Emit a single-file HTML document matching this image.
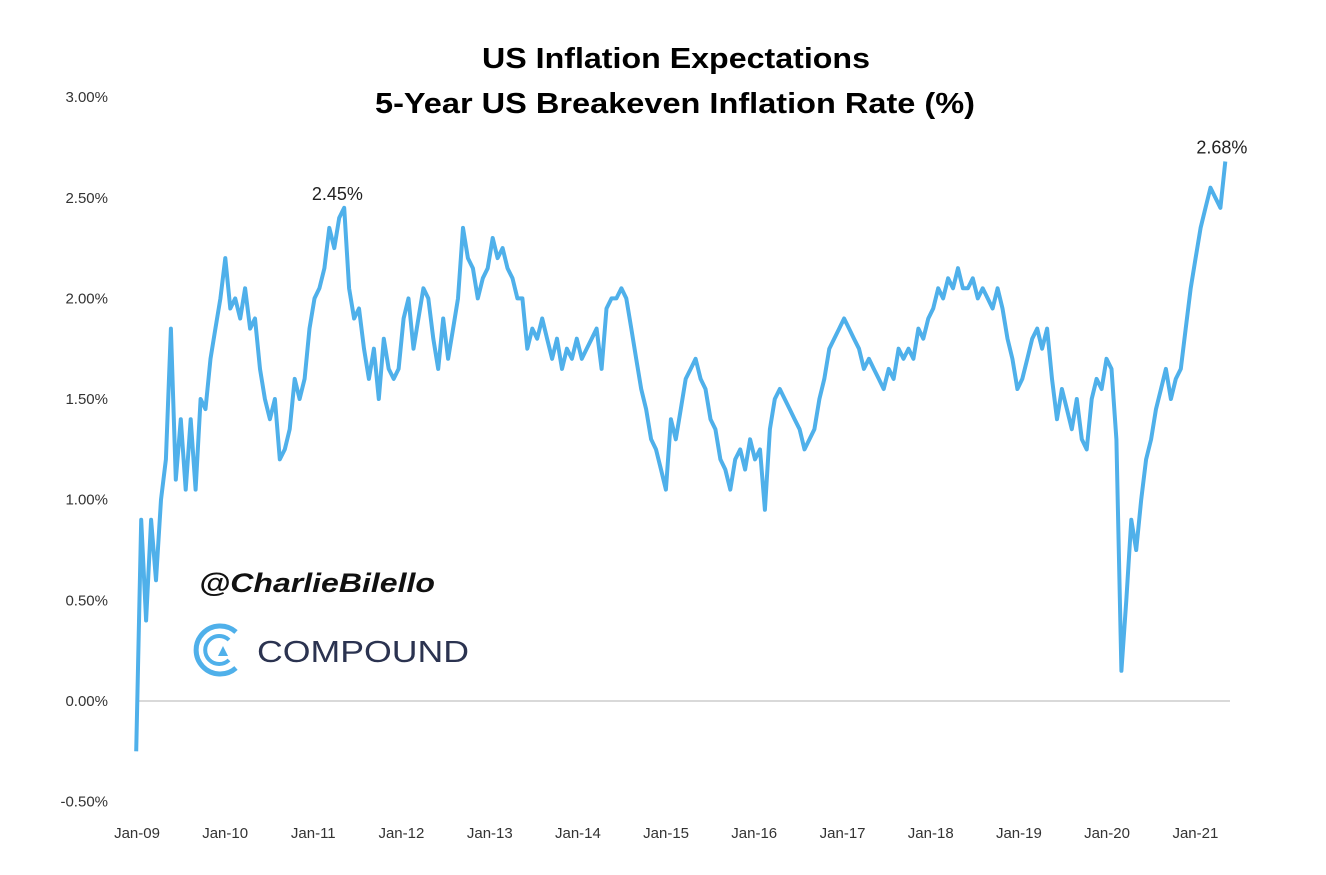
<!DOCTYPE html>
<html><head><meta charset="utf-8"><style>
body{margin:0;background:#fff;}
svg text{font-family:"Liberation Sans",sans-serif;}
</style></head><body>
<svg id="chart" width="1326" height="870" viewBox="0 0 1326 870" xmlns="http://www.w3.org/2000/svg">
<rect width="1326" height="870" fill="#fff"/>
<text x="676" y="68" text-anchor="middle" font-size="29" font-weight="bold" fill="#000" textLength="388" lengthAdjust="spacingAndGlyphs">US Inflation Expectations</text>
<text x="675" y="113" text-anchor="middle" font-size="29" font-weight="bold" fill="#000" textLength="600" lengthAdjust="spacingAndGlyphs">5-Year US Breakeven Inflation Rate (%)</text>
<g id="yaxis"></g>
<g id="xaxis"></g>
<line id="zero" stroke="#d9d9d9" stroke-width="2"/>
<path id="line" fill="none" stroke="#4fb0ea" stroke-width="4" stroke-linejoin="round"/>
<g id="ann"></g>
<text x="199" y="592" font-size="27" font-style="italic" font-weight="bold" fill="#111" font-family="'Liberation Serif',serif" textLength="236" lengthAdjust="spacingAndGlyphs">@CharlieBilello</text>
<g>
<path d="M236 632 A24 24 0 1 0 236 668" fill="none" stroke="#4fb0ea" stroke-width="5"/>
<path d="M229 640 A14 14 0 1 0 229 660" fill="none" stroke="#4fb0ea" stroke-width="4"/>
<polygon points="218,656 228,656 223,646" fill="#4fb0ea"/>
<text x="257" y="662" font-size="31" fill="#2b3350" textLength="212" lengthAdjust="spacingAndGlyphs">COMPOUND</text>
</g>
</svg>
<script>
const yTicks=[-0.5,0,0.5,1.0,1.5,2.0,2.5,3.0];
const xTickLabels=["Jan-09","Jan-10","Jan-11","Jan-12","Jan-13","Jan-14","Jan-15","Jan-16","Jan-17","Jan-18","Jan-19","Jan-20","Jan-21"];
const startDate="2009-01-02";
const stepDays=20.5;
const values=[-0.25,0.9,0.4,0.9,0.6,1.0,1.2,1.85,1.1,1.4,1.05,1.4,1.05,1.5,1.45,1.7,1.85,2.0,2.2,1.95,2.0,1.9,2.05,1.85,1.9,1.65,1.5,1.4,1.5,1.2,1.25,1.35,1.6,1.5,1.6,1.85,2.0,2.05,2.15,2.35,2.25,2.4,2.45,2.05,1.9,1.95,1.75,1.6,1.75,1.5,1.8,1.65,1.6,1.65,1.9,2.0,1.75,1.9,2.05,2.0,1.8,1.65,1.9,1.7,1.85,2.0,2.35,2.2,2.15,2.0,2.1,2.15,2.3,2.2,2.25,2.15,2.1,2.0,2.0,1.75,1.85,1.8,1.9,1.8,1.7,1.8,1.65,1.75,1.7,1.8,1.7,1.75,1.8,1.85,1.65,1.95,2.0,2.0,2.05,2.0,1.85,1.7,1.55,1.45,1.3,1.25,1.15,1.05,1.4,1.3,1.45,1.6,1.65,1.7,1.6,1.55,1.4,1.35,1.2,1.15,1.05,1.2,1.25,1.15,1.3,1.2,1.25,0.95,1.35,1.5,1.55,1.5,1.45,1.4,1.35,1.25,1.3,1.35,1.5,1.6,1.75,1.8,1.85,1.9,1.85,1.8,1.75,1.65,1.7,1.65,1.6,1.55,1.65,1.6,1.75,1.7,1.75,1.7,1.85,1.8,1.9,1.95,2.05,2.0,2.1,2.05,2.15,2.05,2.05,2.1,2.0,2.05,2.0,1.95,2.05,1.95,1.8,1.7,1.55,1.6,1.7,1.8,1.85,1.75,1.85,1.6,1.4,1.55,1.45,1.35,1.5,1.3,1.25,1.5,1.6,1.55,1.7,1.65,1.3,0.15,0.5,0.9,0.75,1.0,1.2,1.3,1.45,1.55,1.65,1.5,1.6,1.65,1.85,2.05,2.2,2.35,2.45,2.55,2.5,2.45,2.68];
const annLabels=["2.45%","2.68%"];
const annValues=[2.45,2.68];
const annDates=["2011-04-15","2021-04-25"];

const NS="http://www.w3.org/2000/svg";
const x0=136, pxPerYear=88.2, x1=1230;
const t0=Date.parse("2009-01-01");
function X(ms){return x0+(ms-t0)/(365.25*864e5)*pxPerYear;}
function Y(v){return 701-v*201.3;}
function mk(tag,attrs,parent){const e=document.createElementNS(NS,tag);for(const k in attrs)e.setAttribute(k,attrs[k]);parent.appendChild(e);return e;}
const ya=document.getElementById('yaxis');
yTicks.forEach(v=>{
  const t=mk('text',{x:108,y:Y(v)+5,'text-anchor':'end','font-size':15,fill:'#333'},ya);
  
  
  t.textContent=v.toFixed(2)+'%';
});
const xa=document.getElementById('xaxis');
xTickLabels.forEach((l,i)=>{
  const t=mk('text',{x:X(Date.parse((2009+i)+"-01-01"))+1,y:838,'text-anchor':'middle','font-size':15,fill:'#333'},xa);
  
  
  t.textContent=l;
});
const z=document.getElementById('zero');
z.setAttribute('x1',x0);z.setAttribute('x2',x1);z.setAttribute('y1',Y(0));z.setAttribute('y2',Y(0));
const s=Date.parse(startDate);
let d="";
values.forEach((v,i)=>{d+=(i?"L":"M")+X(s+i*stepDays*864e5).toFixed(1)+" "+Y(v).toFixed(1);});
document.getElementById('line').setAttribute('d',d);
const ag=document.getElementById('ann');
annLabels.forEach((l,i)=>{
  const t=mk('text',{x:X(Date.parse(annDates[i])),y:Y(annValues[i])-8,'text-anchor':'middle','font-size':18,fill:'#222'},ag);
  
  
  t.textContent=l;
});
</script>
</body></html>
